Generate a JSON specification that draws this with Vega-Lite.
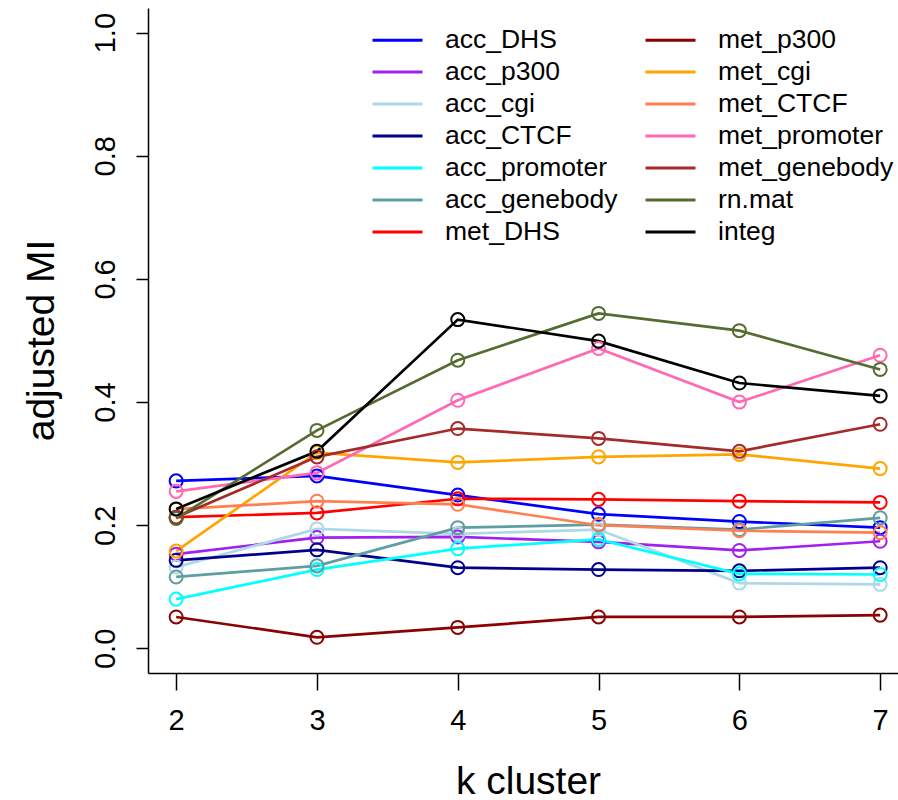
{
  "$schema": "https://vega.github.io/schema/vega-lite/v6.json",
  "autosize": {"type": "none"},
  "padding": {"left": 148, "top": 8, "right": 0, "bottom": 127},
  "width": 750,
  "height": 665,
  "background": "white",
  "config": {
    "view": {"stroke": null},
    "font": "Liberation Sans",
    "axis": {"grid": false, "domainColor": "black", "tickColor": "black", "labelColor": "black", "titleColor": "black", "domainWidth": 1.5, "tickWidth": 1.5, "labelFont": "Liberation Sans", "titleFont": "Liberation Sans", "titleFontWeight": "normal"},
    "legend": {"labelFont": "Liberation Sans"}
  },
  "data": {"values": [
    {"k": 2, "series": "acc_DHS", "value": 0.272}, {"k": 3, "series": "acc_DHS", "value": 0.280}, {"k": 4, "series": "acc_DHS", "value": 0.249}, {"k": 5, "series": "acc_DHS", "value": 0.218}, {"k": 6, "series": "acc_DHS", "value": 0.206}, {"k": 7, "series": "acc_DHS", "value": 0.196},
    {"k": 2, "series": "acc_p300", "value": 0.153}, {"k": 3, "series": "acc_p300", "value": 0.180}, {"k": 4, "series": "acc_p300", "value": 0.181}, {"k": 5, "series": "acc_p300", "value": 0.173}, {"k": 6, "series": "acc_p300", "value": 0.159}, {"k": 7, "series": "acc_p300", "value": 0.174},
    {"k": 2, "series": "acc_cgi", "value": 0.132}, {"k": 3, "series": "acc_cgi", "value": 0.194}, {"k": 4, "series": "acc_cgi", "value": 0.186}, {"k": 5, "series": "acc_cgi", "value": 0.193}, {"k": 6, "series": "acc_cgi", "value": 0.106}, {"k": 7, "series": "acc_cgi", "value": 0.104},
    {"k": 2, "series": "acc_CTCF", "value": 0.143}, {"k": 3, "series": "acc_CTCF", "value": 0.160}, {"k": 4, "series": "acc_CTCF", "value": 0.131}, {"k": 5, "series": "acc_CTCF", "value": 0.128}, {"k": 6, "series": "acc_CTCF", "value": 0.126}, {"k": 7, "series": "acc_CTCF", "value": 0.131},
    {"k": 2, "series": "acc_promoter", "value": 0.080}, {"k": 3, "series": "acc_promoter", "value": 0.128}, {"k": 4, "series": "acc_promoter", "value": 0.162}, {"k": 5, "series": "acc_promoter", "value": 0.177}, {"k": 6, "series": "acc_promoter", "value": 0.121}, {"k": 7, "series": "acc_promoter", "value": 0.120},
    {"k": 2, "series": "acc_genebody", "value": 0.116}, {"k": 3, "series": "acc_genebody", "value": 0.134}, {"k": 4, "series": "acc_genebody", "value": 0.196}, {"k": 5, "series": "acc_genebody", "value": 0.201}, {"k": 6, "series": "acc_genebody", "value": 0.193}, {"k": 7, "series": "acc_genebody", "value": 0.212},
    {"k": 2, "series": "met_DHS", "value": 0.213}, {"k": 3, "series": "met_DHS", "value": 0.220}, {"k": 4, "series": "met_DHS", "value": 0.243}, {"k": 5, "series": "met_DHS", "value": 0.242}, {"k": 6, "series": "met_DHS", "value": 0.239}, {"k": 7, "series": "met_DHS", "value": 0.237},
    {"k": 2, "series": "met_p300", "value": 0.051}, {"k": 3, "series": "met_p300", "value": 0.018}, {"k": 4, "series": "met_p300", "value": 0.034}, {"k": 5, "series": "met_p300", "value": 0.051}, {"k": 6, "series": "met_p300", "value": 0.051}, {"k": 7, "series": "met_p300", "value": 0.054},
    {"k": 2, "series": "met_cgi", "value": 0.158}, {"k": 3, "series": "met_cgi", "value": 0.318}, {"k": 4, "series": "met_cgi", "value": 0.302}, {"k": 5, "series": "met_cgi", "value": 0.311}, {"k": 6, "series": "met_cgi", "value": 0.315}, {"k": 7, "series": "met_cgi", "value": 0.292},
    {"k": 2, "series": "met_CTCF", "value": 0.226}, {"k": 3, "series": "met_CTCF", "value": 0.239}, {"k": 4, "series": "met_CTCF", "value": 0.234}, {"k": 5, "series": "met_CTCF", "value": 0.200}, {"k": 6, "series": "met_CTCF", "value": 0.191}, {"k": 7, "series": "met_CTCF", "value": 0.188},
    {"k": 2, "series": "met_promoter", "value": 0.255}, {"k": 3, "series": "met_promoter", "value": 0.285}, {"k": 4, "series": "met_promoter", "value": 0.403}, {"k": 5, "series": "met_promoter", "value": 0.487}, {"k": 6, "series": "met_promoter", "value": 0.400}, {"k": 7, "series": "met_promoter", "value": 0.476},
    {"k": 2, "series": "met_genebody", "value": 0.213}, {"k": 3, "series": "met_genebody", "value": 0.311}, {"k": 4, "series": "met_genebody", "value": 0.357}, {"k": 5, "series": "met_genebody", "value": 0.341}, {"k": 6, "series": "met_genebody", "value": 0.320}, {"k": 7, "series": "met_genebody", "value": 0.364},
    {"k": 2, "series": "rn.mat", "value": 0.211}, {"k": 3, "series": "rn.mat", "value": 0.354}, {"k": 4, "series": "rn.mat", "value": 0.468}, {"k": 5, "series": "rn.mat", "value": 0.544}, {"k": 6, "series": "rn.mat", "value": 0.516}, {"k": 7, "series": "rn.mat", "value": 0.453},
    {"k": 2, "series": "integ", "value": 0.2265}, {"k": 3, "series": "integ", "value": 0.320}, {"k": 4, "series": "integ", "value": 0.534}, {"k": 5, "series": "integ", "value": 0.499}, {"k": 6, "series": "integ", "value": 0.431}, {"k": 7, "series": "integ", "value": 0.410}
  ]},
  "encoding": {
    "x": {
      "field": "k", "type": "quantitative",
      "scale": {"domain": [1.8, 7.1267], "nice": false, "zero": false},
      "axis": {"values": [2, 3, 4, 5, 6, 7], "title": "k cluster", "tickSize": 17, "labelPadding": 16, "labelFontSize": 29, "titleFontSize": 39, "titleX": 380, "titleY": 120, "titleBaseline": "alphabetic", "titleAlign": "center", "labelFlush": false}
    },
    "y": {
      "field": "value", "type": "quantitative",
      "scale": {"domain": [-0.04, 1.04], "nice": false, "zero": false},
      "axis": {"values": [0, 0.2, 0.4, 0.6, 0.8, 1.0], "format": ".1f", "title": "adjusted MI", "tickSize": 12, "labelAngle": -90, "labelAlign": "center", "labelBaseline": "alphabetic", "labelPadding": 22, "labelFontSize": 29, "titleFontSize": 39, "titleAngle": -90, "titleX": -95, "titleY": 332, "titleBaseline": "alphabetic", "titleAlign": "center", "labelFlush": false}
    },
    "color": {
      "field": "series", "type": "nominal",
      "scale": {
        "domain": ["acc_DHS", "acc_p300", "acc_cgi", "acc_CTCF", "acc_promoter", "acc_genebody", "met_DHS", "met_p300", "met_cgi", "met_CTCF", "met_promoter", "met_genebody", "rn.mat", "integ"],
        "range": ["#0000FF", "#A020F0", "#ADD8E6", "#00008B", "#00FFFF", "#5F9EA0", "#FF0000", "#8B0000", "#FFA500", "#FF7F50", "#FF69B4", "#A52A2A", "#556B2F", "#000000"]
      }
    }
  },
  "layer": [
    {
      "mark": {"type": "line", "strokeWidth": 2.7},
      "encoding": {
        "color": {
          "field": "series", "type": "nominal",
          "legend": {"title": null, "orient": "none", "legendX": 223, "legendY": 21, "columns": 2, "columnPadding": 26, "rowPadding": 5, "symbolType": "stroke", "symbolSize": 2500, "symbolStrokeWidth": 3, "labelOffset": 21, "labelFontSize": 26.5, "labelColor": "black", "padding": 0, "clipHeight": 22, "labelLimit": 400}
        }
      }
    },
    {
      "mark": {"type": "point", "filled": false, "size": 170, "strokeWidth": 2, "opacity": 1},
      "encoding": {"color": {"field": "series", "type": "nominal", "legend": null}}
    }
  ]
}
